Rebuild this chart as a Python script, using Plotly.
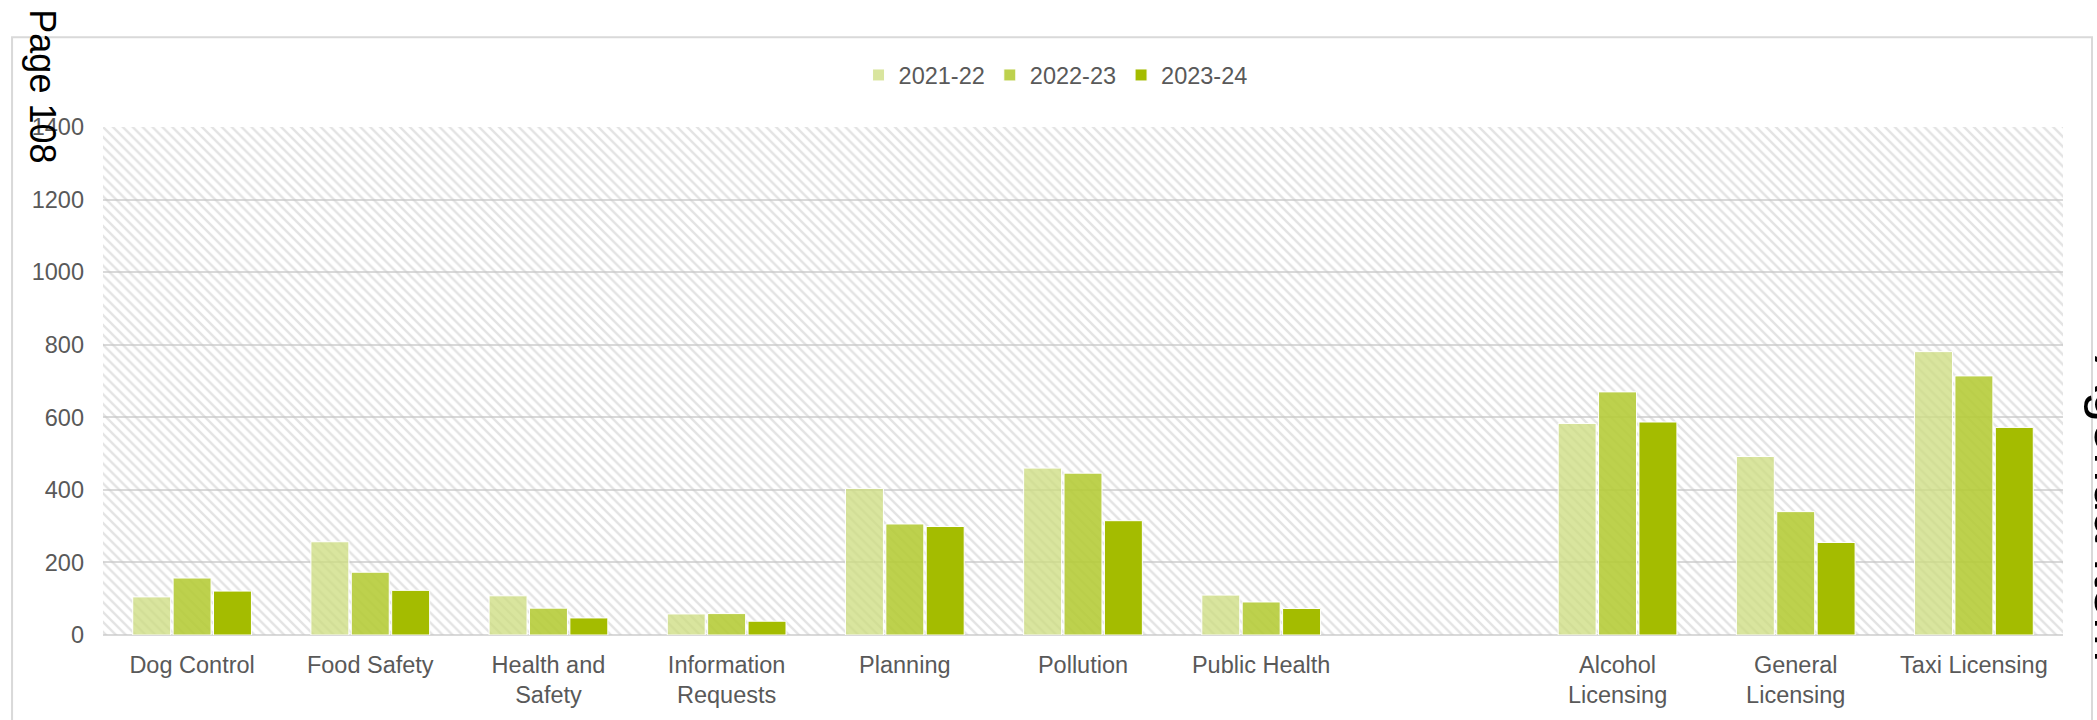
import plotly.graph_objects as go

# ---- data ----
categories = ["Dog Control", "Food Safety", "Health and<br>Safety", "Information<br>Requests",
              "Planning", "Pollution", "Public Health", " ",
              "Alcohol<br>Licensing", "General<br>Licensing", "Taxi Licensing"]
series_names = ["2021-22", "2022-23", "2023-24"]
vals_2021_22 = [105, 257, 108, 58, 404, 460, 110, None, 583, 492, 781]
vals_2022_23 = [157, 173, 74, 59, 306, 446, 91, None, 670, 340, 714]
vals_2023_24 = [121, 123, 47, 38, 299, 315, 73, None, 587, 255, 572]
y_tick_values = [0, 200, 400, 600, 800, 1000, 1200, 1400]
y_max = 1400

series_values = [vals_2021_22, vals_2022_23, vals_2023_24]
colors = ["rgba(204,220,126,0.75)", "rgba(180,203,52,0.88)", "#A4BC00"]

FONT = "Liberation Sans, Arial, sans-serif"
GREY_TEXT = "#595959"
GRID = "#d9d9d9"

fig = go.Figure()

# hatched plot-area background (on hidden numeric axis underneath)
fig.add_trace(go.Bar(
    x=[0.5], y=[y_max], width=[1], xaxis="x", yaxis="y",
    marker=dict(color="rgba(0,0,0,0)", line=dict(width=0),
                pattern=dict(shape="\\", fgcolor="#c8c8c8", size=7, solidity=0.35)),
    showlegend=False, hoverinfo="skip"))

for name, vals, col in zip(series_names, series_values, colors):
    fig.add_trace(go.Bar(
        x=categories, y=vals, name=name, xaxis="x2", yaxis="y",
        marker=dict(color=col, line=dict(color="white", width=1))))

fig.update_layout(
    width=2097, height=720,
    margin=dict(l=103, r=34, t=127, b=83),
    paper_bgcolor="white", plot_bgcolor="white",
    font=dict(family=FONT, color=GREY_TEXT, size=23.5),
    barmode="group", bargap=0.32, bargroupgap=0.06,
    xaxis=dict(range=[0, 1], visible=False, fixedrange=True),
    xaxis2=dict(overlaying="x", type="category", categoryorder="array",
                categoryarray=categories, range=[-0.5, 10.5],
                showline=False, showgrid=False, ticks="",
                tickfont=dict(size=23.5, color=GREY_TEXT, family=FONT),
                ticklabelstandoff=13),
    yaxis=dict(range=[0, y_max], tickvals=y_tick_values, showgrid=True,
               gridcolor=GRID, gridwidth=2, zeroline=True, zerolinecolor=GRID,
               zerolinewidth=2, showline=False, ticks="",
               tickfont=dict(size=23.5, color=GREY_TEXT, family=FONT),
               ticklabelstandoff=18),
    legend=dict(orientation="h", x=0.486, xanchor="center", y=1.102, yanchor="middle",
                font=dict(size=23.5, color=GREY_TEXT, family=FONT),
                bgcolor="rgba(0,0,0,0)", traceorder="normal"),
    shapes=[dict(type="rect", xref="paper", yref="paper",
                 x0=-0.0464, x1=1.0148, y0=-0.25, y1=1.1765,
                 line=dict(color=GRID, width=2), fillcolor="rgba(0,0,0,0)", layer="below")],
    annotations=[
        dict(text="Page 108", xref="paper", yref="paper", x=-0.0306, y=1.080,
             xanchor="center", yanchor="middle", textangle=90, showarrow=False,
             font=dict(size=36, color="black", family=FONT)),
        dict(text="Agenda Item", xref="paper", yref="paper", x=1.0097, y=0.553,
             xanchor="left", yanchor="top", textangle=90, showarrow=False,
             font=dict(size=54, color="black", family=FONT)),
    ],
)

fig.write_html("out.html", config={"displayModeBar": False},
               post_script="document.body.style.margin='0';document.body.style.overflow='hidden';")
